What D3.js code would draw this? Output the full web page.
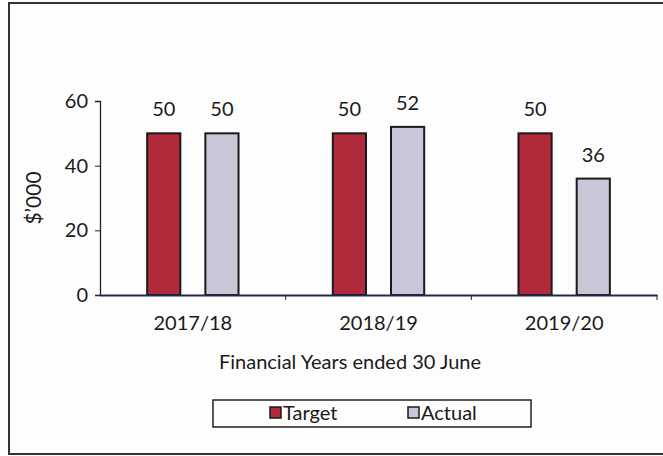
<!DOCTYPE html>
<html>
<head>
<meta charset="utf-8">
<script src="https://cdn.jsdelivr.net/npm/d3@7"></script>
<style>
  body { margin: 0; background: #fdfdfd; }
  svg text { font-family: Lato, "Open Sans", sans-serif; fill: #1a1a1a; }
</style>
</head>
<body>
<svg id="chart" width="663" height="456"></svg>
<script>
const years = ["2017/18", "2018/19", "2019/20"];
const series = ["Target", "Actual"];
const target = [50, 50, 50];
const actual = [50, 52, 36];
const yTicks = [0, 20, 40, 60];

const colors = { Target: "#b02a3b", Actual: "#cac6d8" };

const svg = d3.select("#chart");
const margin = { left: 100, right: 6, top: 101, bottom: 161 };
const width = 663 - margin.left - margin.right;
const height = 456 - margin.top - margin.bottom;
const fs = "20px";

// outer frame
svg.append("rect")
    .attr("x", 9).attr("y", 3)
    .attr("width", 670).attr("height", 451)
    .attr("fill", "none")
    .attr("stroke", "#333")
    .attr("stroke-width", 2);

const g = svg.append("g").attr("transform", `translate(${margin.left},${margin.top})`);

const x = d3.scaleBand().domain(years).range([0, width]).padding(0);
const xInner = d3.scaleBand().domain(series).range([0, x.bandwidth()])
    .paddingInner(0.43).paddingOuter(0.81);
const y = d3.scaleLinear().domain([0, 60]).range([height, 0]);

const rows = years.map((yr, i) => ({ year: yr, Target: target[i], Actual: actual[i] }));

// y axis
const yAxis = g.append("g")
    .call(d3.axisLeft(y).tickValues(yTicks).tickSize(5).tickPadding(7));
yAxis.select(".domain").attr("stroke", "#222").attr("stroke-width", 1.3);
yAxis.selectAll("line").attr("stroke", "#222");
yAxis.selectAll("text").style("font-size", fs).attr("fill", "#1a1a1a");

// bars
const groups = g.selectAll(".yr").data(rows).enter().append("g")
    .attr("transform", d => `translate(${x(d.year)},0)`);

groups.selectAll("rect")
    .data(d => series.map(s => ({ key: s, value: d[s] })))
    .enter().append("rect")
    .attr("x", d => xInner(d.key))
    .attr("y", d => y(d.value))
    .attr("width", xInner.bandwidth())
    .attr("height", d => height - y(d.value))
    .attr("fill", d => colors[d.key])
    .attr("stroke", "#1a1a1a")
    .attr("stroke-width", 2);

groups.selectAll(".lbl")
    .data(d => series.map(s => ({ key: s, value: d[s] })))
    .enter().append("text")
    .attr("class", "lbl")
    .attr("x", d => xInner(d.key) + xInner.bandwidth() / 2)
    .attr("y", d => y(d.value) - 17)
    .attr("text-anchor", "middle")
    .style("font-size", fs)
    .text(d => d.value);

// x axis
const xAxis = g.append("g")
    .attr("transform", `translate(0,${height})`)
    .call(d3.axisBottom(x).tickSize(0).tickPadding(21));
xAxis.select(".domain").attr("stroke", "#1f2a48").attr("stroke-width", 2);
xAxis.selectAll("text").style("font-size", fs).attr("fill", "#1a1a1a");

// category separators
g.selectAll(".sep")
    .data(years.map(d => x(d) + x.bandwidth()))
    .enter().append("line")
    .attr("x1", d => d).attr("x2", d => d)
    .attr("y1", height).attr("y2", height + 5)
    .attr("stroke", "#222");

// axis titles
svg.append("text")
    .attr("x", 350).attr("y", 369)
    .attr("text-anchor", "middle")
    .style("font-size", fs)
    .text("Financial Years ended 30 June");

svg.append("text")
    .attr("transform", "translate(41,198) rotate(-90)")
    .attr("text-anchor", "middle")
    .style("font-size", "21px")
    .text("$\u2019000");

// legend
const legend = svg.append("g").attr("transform", "translate(213,400)");
legend.append("rect")
    .attr("width", 318).attr("height", 27)
    .attr("fill", "#fdfdfd")
    .attr("stroke", "#222").attr("stroke-width", 1.5);

const legendX = { Target: 57, Actual: 195 };
series.forEach(s => {
    const item = legend.append("g").attr("transform", `translate(${legendX[s]},7)`);
    item.append("rect")
        .attr("width", 11).attr("height", 11)
        .attr("fill", colors[s])
        .attr("stroke", "#1a1a1a").attr("stroke-width", 1.5);
    item.append("text")
        .attr("x", 13).attr("y", 13)
        .style("font-size", fs)
        .text(s);
});
</script>
</body>
</html>
